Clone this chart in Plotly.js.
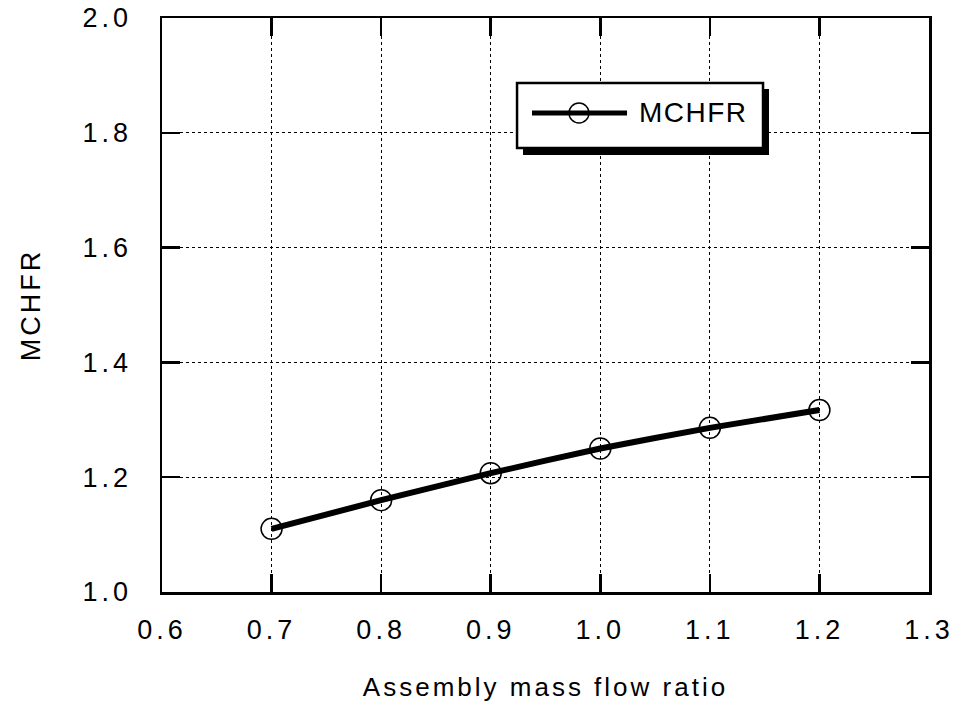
<!DOCTYPE html>
<html>
<head>
<meta charset="utf-8">
<script src="https://cdn.plot.ly/plotly-3.0.1.min.js"></script>
<style>
  html, body { margin: 0; padding: 0; background: #fff; }
  #chart { width: 961px; height: 708px; }
  .xtick text, .ytick text { letter-spacing: 4px; }
  .g-xtitle text, .g-ytitle text { letter-spacing: 3px; }
  .annotation-text { letter-spacing: 1.5px; }
</style>
</head>
<body>
<div id="chart"></div>
<script>
// Data
const flowRatio = [0.7, 0.8, 0.9, 1.0, 1.1, 1.2];
const mchfr = [1.110, 1.160, 1.207, 1.250, 1.286, 1.317];
const seriesName = 'MCHFR';
const xTickVals = [0.6, 0.7, 0.8, 0.9, 1.0, 1.1, 1.2, 1.3];
const yTickVals = [1.0, 1.2, 1.4, 1.6, 1.8, 2.0];
const xTitle = 'Assembly mass flow ratio';
const yTitle = 'MCHFR';

const font = { family: 'Liberation Sans, Arial, Helvetica, sans-serif', color: '#000' };

const trace = {
  x: flowRatio,
  y: mchfr,
  name: seriesName,
  mode: 'lines+markers',
  line: { color: '#000', width: 6, shape: 'spline', smoothing: 0.5 },
  marker: { symbol: 'circle-open', size: 21, color: '#000', line: { width: 1.5, color: '#000' } },
  showlegend: false,
  hoverinfo: 'x+y'
};

const axisCommon = {
  showline: true, linecolor: '#000', linewidth: 2.5, mirror: 'ticks',
  ticks: 'inside', ticklen: 18, tickwidth: 2.5, tickcolor: '#000',
  showgrid: true, gridcolor: '#000', gridwidth: 1.2, griddash: 'dot',
  zeroline: false,
  tickfont: Object.assign({ size: 27 }, font)
};

const layout = {
  width: 961, height: 708,
  margin: { l: 162, r: 32, t: 18, b: 116 },
  paper_bgcolor: '#fff', plot_bgcolor: '#fff',
  font: font,
  xaxis: Object.assign({}, axisCommon, {
    range: [0.6, 1.3], tickvals: xTickVals, tickformat: '.1f',
    ticklabelstandoff: 12,
    title: { text: xTitle, font: Object.assign({ size: 26 }, font), standoff: 34 }
  }),
  yaxis: Object.assign({}, axisCommon, {
    range: [1.0, 2.0], tickvals: yTickVals, tickformat: '.1f',
    ticklabelstandoff: 22,
    title: { text: yTitle, font: Object.assign({ size: 27 }, font), standoff: 34 }
  }),
  shapes: [
    // legend drop shadow
    { type: 'rect', xref: 'paper', yref: 'paper', x0: 0.4707, x1: 0.7914, y0: 0.7613, y1: 0.8763,
      fillcolor: '#000', line: { width: 0 }, layer: 'above' },
    // legend box
    { type: 'rect', xref: 'paper', yref: 'paper', x0: 0.4629, x1: 0.7836, y0: 0.7735, y1: 0.8868,
      fillcolor: '#fff', line: { color: '#000', width: 2.5 }, layer: 'above' },
    // legend line sample
    { type: 'line', xref: 'paper', yref: 'paper', x0: 0.4824, x1: 0.6063, y0: 0.8345, y1: 0.8345,
      line: { color: '#000', width: 5 }, layer: 'above' },
    // legend marker sample
    { type: 'circle', xref: 'paper', yref: 'paper', x0: 0.5306, x1: 0.5567, y0: 0.8171, y1: 0.8519,
      fillcolor: 'rgba(0,0,0,0)', line: { color: '#000', width: 1.5 }, layer: 'above' }
  ],
  annotations: [
    { xref: 'paper', yref: 'paper', x: 0.6193, y: 0.8345, xanchor: 'left', yanchor: 'middle',
      text: seriesName, showarrow: false, font: Object.assign({ size: 28 }, font) }
  ]
};

Plotly.newPlot('chart', [trace], layout, { displayModeBar: false, staticPlot: true });
</script>
</body>
</html>
